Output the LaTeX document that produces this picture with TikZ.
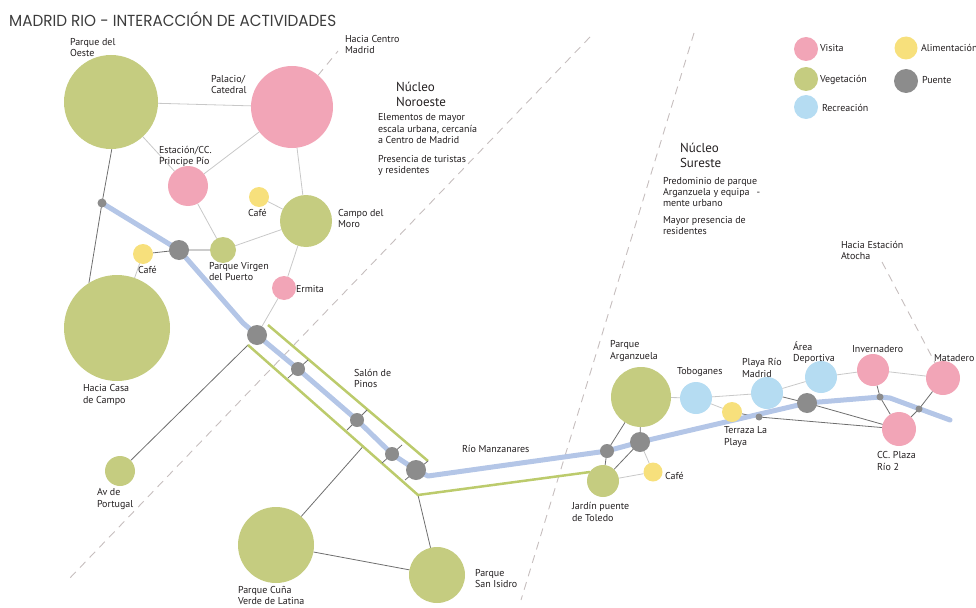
\documentclass[tikz,border=0pt]{standalone}
\usepackage{graphicx}
\usepackage{fontspec}
\setmainfont{PT Sans}
\newfontfamily\titlefont{Poppins}
\usetikzlibrary{calc}
\pgfdeclarelayer{bg}
\pgfsetlayers{bg,main}
\definecolor{visita}{RGB}{242,165,183}
\definecolor{veg}{RGB}{197,204,128}
\definecolor{recre}{RGB}{181,220,242}
\definecolor{alim}{RGB}{247,224,124}
\definecolor{puente}{RGB}{140,140,140}
\definecolor{rio}{RGB}{180,198,231}
\definecolor{stripcol}{RGB}{188,203,108}
\definecolor{lightln}{RGB}{200,200,200}
\definecolor{darkln}{RGB}{110,110,110}
\definecolor{dashln}{RGB}{198,190,190}
\definecolor{txt}{RGB}{35,31,32}
\newcommand\ml[2][11pt]{\vtop{\baselineskip=#1\lineskiplimit=-20pt\lineskip=0pt\relax\halign{##\hfil\cr#2\crcr}}}
\tikzset{
 dot/.style={circle,inner sep=0pt,outer sep=0pt,minimum size=#1,draw=none},
 vis/.style={dot=#1,fill=visita},
 vegc/.style={dot=#1,fill=veg},
 rec/.style={dot=#1,fill=recre},
 ali/.style={dot=#1,fill=alim},
 pue/.style={dot=#1,fill=puente},
 lbl/.style={anchor=base west,inner sep=0pt,outer sep=0pt,font=\fontsize{10}{11}\selectfont,text=txt},
 big/.style={anchor=base west,inner sep=0pt,outer sep=0pt,font=\fontsize{13}{15}\selectfont,text=txt},
 lightc/.style={draw=lightln,line width=0.8pt},
 darkc/.style={draw=darkln,line width=0.8pt},
 dashc/.style={draw=dashln,line width=0.9pt,dash pattern=on 8pt off 6pt},
 river/.style={draw=rio,line width=5pt,line join=round,line cap=round},
 stripc/.style={draw=stripcol,line width=2.5pt,line join=miter},
}
\begin{document}
\begin{tikzpicture}[x=1pt,y=-1pt]
\useasboundingbox (0,0) rectangle (976,607);
% title
\node[anchor=base west,inner sep=0pt,text={rgb,255:red,60;green,60;blue,60}] (title) at (9,27)
 {\titlefont\fontsize{16}{16}\selectfont\resizebox{327pt}{\height}{MADRID RIO - INTERACCIÓN DE ACTIVIDADES}};
% circles
\node[vegc=94pt] (oeste) at (111,102) {};
\node[vis=82pt] (palacio) at (292,107) {};
\node[vis=40pt] (estacion) at (188,186) {};
\node[ali=20pt] (cafe2) at (259,197) {};
\node[vegc=52pt] (moro) at (306,221) {};
\node[vegc=26pt] (pvp) at (223,250) {};
\node[pue=20pt] (pu1) at (179,250) {};
\node[ali=20pt] (cafe1) at (143,254) {};
\node[pue=9pt] (pu0) at (102,203) {};
\node[vegc=106pt] (casa) at (117,328) {};
\node[vis=24pt] (ermita) at (284,288) {};
\node[pue=20pt] (pu2) at (257,335) {};
\node[pue=14pt] (pu3) at (298,369) {};
\node[pue=14pt] (pu4) at (357,420) {};
\node[pue=14pt] (pu5) at (392,454) {};
\node[pue=20pt] (pu6) at (416,470) {};
\node[vegc=30pt] (portugal) at (120,471) {};
\node[vegc=76pt] (cuna) at (276,545) {};
\node[vegc=56pt] (isidro) at (437,575) {};
\node[vegc=32pt] (jardin) at (603,481) {};
\node[vegc=60pt] (argan) at (641,397) {};
\node[pue=14pt] (pu7) at (607,451) {};
\node[pue=20pt] (pu8) at (640,442) {};
\node[ali=19pt] (cafe3) at (653,472) {};
\node[rec=32pt] (tobog) at (696,398) {};
\node[ali=20pt] (terraza) at (732,412) {};
\node[rec=32pt] (playa) at (767,393) {};
\node[rec=32pt] (area) at (821,377) {};
\node[pue=20pt] (pu10) at (807,403) {};
\node[vis=32pt] (inver) at (873,370) {};
\node[vis=34pt] (matadero) at (943,378) {};
\node[vis=34pt] (plaza) at (899,429) {};
\node[pue=7pt] (pu9) at (759,417) {};
\node[pue=7pt] (pu11) at (880,397) {};
\node[pue=7pt] (pu12) at (919,409) {};
% legend
\node[vis=24pt] (lv) at (806,49) {};
\node[vegc=24pt] (lg) at (806,79) {};
\node[rec=24pt] (lr) at (806,107) {};
\node[ali=23pt] (la) at (906,48) {};
\node[pue=24pt] (lp) at (906,81) {};
\node[lbl] (tlv) at (820,52) {Visita};
\node[lbl] (tlg) at (820,83) {Vegetación};
\node[lbl] (tlr) at (822,112) {Recreación};
\node[lbl] (tla) at (921,52) {Alimentación};
\node[lbl] (tlp) at (922,84) {Puente};
% labels
\node[lbl] (t1) at (70,46) {\ml{Parque del\cr Oeste}};
\node[lbl] (t2) at (345,43) {\ml{Hacia Centro\cr Madrid}};
\node[lbl] (t3) at (211,83) {\ml{Palacio/\cr Catedral}};
\node[lbl] (t4) at (159,153) {\ml{Estación/CC.\cr Principe Pío}};
\node[lbl] (t5) at (248,216) {Café};
\node[lbl] (t6) at (338,216) {\ml{Campo del\cr Moro}};
\node[lbl] (t7) at (138,273) {Café};
\node[lbl] (t8) at (209,269) {\ml{Parque Virgen\cr del Puerto}};
\node[lbl] (t9) at (296,292) {Ermita};
\node[lbl] (t10) at (83,391) {\ml[12pt]{Hacia Casa\cr de Campo}};
\node[lbl] (t11) at (354,376) {\ml{Salón de\cr Pinos}};
\node[lbl] (t12) at (462,452) {Río Manzanares};
\node[lbl] (t13) at (97,495) {\ml[12pt]{Av de\cr Portugal}};
\node[lbl] (t14) at (238,593) {\ml{Parque Cuña\cr Verde de Latina}};
\node[lbl] (t15) at (475,576) {\ml{Parque\cr San Isidro}};
\node[lbl] (t16) at (572,509) {\ml[12pt]{Jardín puente\cr de Toledo}};
\node[lbl] (t17) at (665,479) {Café};
\node[lbl] (t18) at (610,347) {\ml[12pt]{Parque\cr Arganzuela}};
\node[lbl] (t19) at (677,374) {Toboganes};
\node[lbl] (t20) at (742,365) {\ml[12pt]{Playa Río\cr Madrid}};
\node[lbl] (t21) at (793,350) {\ml{Área\cr Deportiva}};
\node[lbl] (t22) at (852,352) {Invernadero};
\node[lbl] (t23) at (934,361) {Matadero};
\node[lbl] (t24) at (724,433) {\ml[12pt]{Terraza La\cr Playa}};
\node[lbl] (t25) at (877,458) {\ml[12pt]{CC. Plaza\cr Río 2}};
\node[lbl] (t26) at (841,248) {\ml{Hacia Estación\cr Atocha}};
\node[big] (n1) at (396,92) {\ml[15pt]{Núcleo\cr Noroeste}};
\node[lbl] (n1a) at (378,121) {\ml[11.5pt]{Elementos de mayor\cr escala urbana, cercanía\cr a Centro de Madrid}};
\node[lbl] (n1b) at (378,162) {\ml[11pt]{Presencia de turistas\cr y residentes}};
\node[big] (n2) at (680,152) {\ml[15pt]{Núcleo\cr Sureste}};
\node[lbl] (n2a) at (663,184) {\ml[11pt]{Predominio de parque\cr Arganzuela y equipa\hspace{0.7em}-\cr mente urbano}};
\node[lbl] (n2b) at (663,223) {\ml[11pt]{Mayor presencia de\cr residentes}};
% coordinates
\coordinate (hcm) at (338,51);
\coordinate (dB1) at (590,37);
\coordinate (dB2) at (68,580);
\coordinate (dC1) at (694,33);
\coordinate (dC2) at (521,600);
\coordinate (hea) at (882,262);
\coordinate (sU1) at (268,325);
\coordinate (sU2) at (428,461);
\coordinate (sA) at (248,345);
\coordinate (sB) at (418,495);
\coordinate (sC) at (590,472);
\coordinate (sD) at (363,446.5);
\begin{pgfonlayer}{bg}
% dashed
\draw[dashc] (palacio) -- (hcm);
\draw[dashc] (dB1) -- (dB2);
\draw[dashc] (dC1) -- (dC2);
\draw[dashc] (hea) -- (matadero);
% light connectors
\draw[lightc] (oeste) -- (palacio);
\draw[lightc] (oeste) -- (estacion);
\draw[lightc] (estacion) -- (palacio);
\draw[lightc] (palacio) -- (moro);
\draw[lightc] (estacion) -- (pvp);
\draw[lightc] (cafe2) -- (moro);
\draw[lightc] (pvp) -- (moro);
\draw[lightc] (moro) -- (ermita);
\draw[lightc] (ermita) -- (pu2);
\draw[lightc] (cafe1) -- (casa);
\draw[lightc] (jardin) -- (cafe3);
\draw[lightc] (pu8) -- (cafe3);
\draw[lightc] (argan) -- (tobog);
\draw[lightc] (tobog) -- (playa);
\draw[lightc] (tobog) -- (terraza);
\draw[lightc] (playa) -- (area);
\draw[lightc] (area) -- (inver);
\draw[lightc] (inver) -- (matadero);
% dark connectors
\draw[darkc] (oeste.271) -- (pu0.center) -- (casa.122);
\draw[darkc] (cafe1) -- (pu1.center) -- (pvp);
\draw[darkc] (portugal) -- (sA);
\draw[darkc] (cuna) -- (sD);
\draw[darkc] (cuna) -- (isidro);
\draw[darkc] (isidro) -- (sB);
\draw[darkc] (jardin) -- (pu7.center) -- (argan);
\draw[darkc] (jardin) -- (pu8.center) -- (argan);
\draw[darkc] (terraza) -- (pu9.center) -- (plaza);
\draw[darkc] (playa) -- (pu10.center) -- (plaza);
\draw[darkc] (inver) -- (pu11.center) -- (plaza);
\draw[darkc] (matadero) -- (pu12.center) -- (plaza);
% green strip
\draw[stripc] (sU1) -- (sU2);
\draw[stripc] (sA) -- (sB) -- (sC);
% bridge ticks
\draw[darkc] ($(pu3)+(-10,9)$) -- ($(pu3)+(10,-9)$);
\draw[darkc] ($(pu4)+(-10,10)$) -- ($(pu4)+(10,-10)$);
\draw[darkc] ($(pu5)+(-10,9)$) -- ($(pu5)+(10,-9)$);
\draw[darkc] ($(pu6)+(-11,10)$) -- ($(pu6)+(12,-9)$);
% river
\draw[river] (pu0.center) -- (pu1.center) -- (187,259) -- (243,323) -- (pu2.center) -- (pu3.center) -- (pu4.center) -- (pu5.center) -- (pu6.center) -- (428,476) -- (pu7.center) -- (pu8.center) -- (pu10.center) -- (pu11.center) -- (890,398) -- (950,420);
\end{pgfonlayer}
\end{tikzpicture}
\end{document}
